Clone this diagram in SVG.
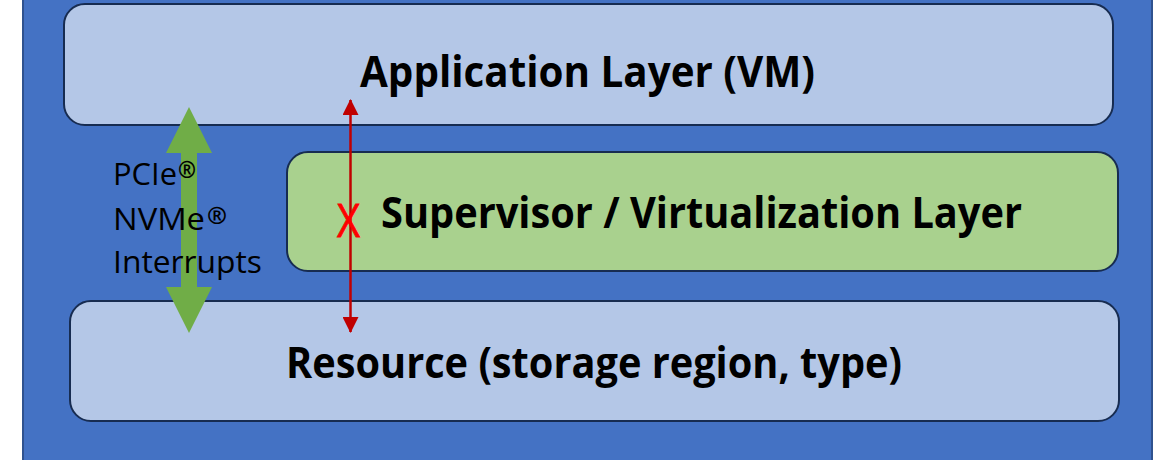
<svg xmlns="http://www.w3.org/2000/svg" width="1156" height="460" viewBox="0 0 1156 460">
  <style>
    .layer { fill: #B4C7E7; stroke: #172C51; stroke-width: 2; }
    .super { fill: #A9D18E; stroke: #172C51; stroke-width: 2; }
    .title { font-family: "Open Sans", "Liberation Sans", sans-serif; font-weight: 700; font-size: 43px; fill: #000; }
    .note { font-family: "Open Sans", "Liberation Sans", sans-serif; font-weight: 400; font-size: 31px; fill: #000; }
    .reg { font-family: "Open Sans", "Liberation Sans", sans-serif; font-weight: 700; font-size: 24px; fill: #000; }
  </style>
  <defs>
    <marker id="redHead" viewBox="0 0 16 16" refX="15" refY="8" markerWidth="16" markerHeight="16" markerUnits="userSpaceOnUse" orient="auto-start-reverse">
      <path d="M0,0 L16,8 L0,16 Z" fill="#C00000"/>
    </marker>
  </defs>

  <rect width="1156" height="460" fill="#FFFFFF"/>
  <!-- outer frame -->
  <rect id="frame" x="23" y="-10" width="1129" height="480" fill="#4472C4" stroke="#2F528F" stroke-width="2"/>

  <g id="application">
    <rect class="layer" x="64" y="4" width="1049" height="121" rx="21"/>
    <text class="title" x="360" y="87" textLength="455" lengthAdjust="spacingAndGlyphs">Application Layer (VM)</text>
  </g>

  <g id="supervisor">
    <rect class="super" x="287" y="152" width="831" height="119" rx="21"/>
    <text class="title" x="381" y="228" textLength="641" lengthAdjust="spacingAndGlyphs">Supervisor / Virtualization Layer</text>
  </g>

  <g id="resource">
    <rect class="layer" x="70" y="301" width="1049" height="120" rx="21"/>
    <text class="title" x="286" y="378" textLength="616" lengthAdjust="spacingAndGlyphs">Resource (storage region, type)</text>
  </g>

  <g id="connectors">
    <!-- permitted path: PCIe / NVMe / interrupts -->
    <polygon points="189,107 212,153 197,153 197,287 212,287 189,333 166,287 181,287 181,153 166,153" fill="#70AD47"/>
    <!-- blocked direct path through the supervisor -->
    <line x1="350.5" y1="100" x2="350.5" y2="332" stroke="#C00000" stroke-width="2.5" marker-start="url(#redHead)" marker-end="url(#redHead)"/>
    <text x="337" y="237" font-family="Open Sans, Liberation Sans, sans-serif" font-size="46" fill="#FF0000" stroke="#FF0000" stroke-width="0.8" textLength="23" lengthAdjust="spacingAndGlyphs">X</text>
  </g>

  <g id="protocols">
    <text class="note" x="113" y="185" textLength="64" lengthAdjust="spacingAndGlyphs">PCIe</text>
    <text class="reg" x="178" y="178" textLength="18" lengthAdjust="spacingAndGlyphs">®</text>
    <text class="note" x="113" y="230" textLength="92" lengthAdjust="spacingAndGlyphs">NVMe</text>
    <text class="reg" x="207" y="224" textLength="20" lengthAdjust="spacingAndGlyphs">®</text>
    <text class="note" x="113" y="273" textLength="149" lengthAdjust="spacingAndGlyphs">Interrupts</text>
  </g>
</svg>
